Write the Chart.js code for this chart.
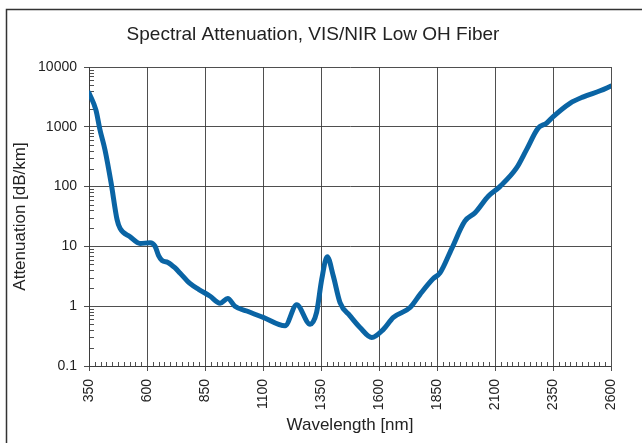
<!DOCTYPE html>
<html>
<head>
<meta charset="utf-8">
<script src="https://cdn.jsdelivr.net/npm/chart.js@4"></script>
<style>
  body { margin: 0; background: #fff; }
  canvas { display: block; }
</style>
</head>
<body>
<canvas id="attChart" width="642" height="443"></canvas>
<script>
// spectral attenuation, nm / dB per km
var wavelength = [350, 380, 397, 419, 445, 471, 484, 527, 570, 613, 635, 650, 665, 690, 720, 742, 785, 824, 871, 915, 948, 979, 1030, 1101, 1195, 1245, 1303, 1331, 1353, 1377, 1403, 1432, 1475, 1518, 1569, 1619, 1662, 1734, 1777, 1834, 1863, 1913, 1970, 2014, 2071, 2121, 2193, 2236, 2286, 2322, 2351, 2423, 2481, 2553, 2600];
var attenuation = [3700, 1900, 900, 410, 117, 28, 20, 14.5, 11.2, 11.5, 10, 7, 5.8, 5.4, 4.4, 3.6, 2.4, 1.9, 1.48, 1.12, 1.34, 1.0, 0.83, 0.65, 0.47, 1.06, 0.5, 0.79, 2.8, 6.7, 3.2, 1.15, 0.69, 0.44, 0.30, 0.41, 0.65, 0.95, 1.58, 2.9, 3.6, 9.1, 26.4, 36.5, 69, 100, 205, 415, 950, 1150, 1480, 2470, 3170, 4000, 4800];

var xTicks = [350, 600, 850, 1100, 1350, 1600, 1850, 2100, 2350, 2600];
var yTicks = [0.1, 1, 10, 100, 1000, 10000];

var gridCol = 'rgba(60,60,60,0.9)';
Chart.defaults.font.family = '"Liberation Sans", Arial, sans-serif';
Chart.defaults.color = '#222';

// minor ticks, title and the outer frame
var extras = {
  id: 'extras',
  beforeDatasetsDraw: function(chart) {
    var ctx = chart.ctx, xs = chart.scales.x, ys = chart.scales.y;
    var a = chart.chartArea;
    ctx.save();
    ctx.strokeStyle = gridCol;
    ctx.lineWidth = 1;
    ctx.beginPath();
    for (var d = 0; d < yTicks.length - 1; d++) {
      for (var k = 2; k <= 9; k++) {
        var py = Math.round(ys.getPixelForValue(yTicks[d] * k)) + 0.5;
        ctx.moveTo(a.left, py);
        ctx.lineTo(a.left + 5, py);
      }
    }
    for (var v = 375; v < 2600; v += 25) {
      if ((v - 350) % 250 === 0) continue;
      var px = Math.round(xs.getPixelForValue(v)) + 0.5;
      ctx.moveTo(px, a.bottom);
      ctx.lineTo(px, a.bottom - 4);
    }
    ctx.stroke();
    ctx.restore();
  },
  afterDraw: function(chart) {
    var ctx = chart.ctx;
    ctx.save();
    ctx.fillStyle = '#222';
    ctx.font = '19px "Liberation Sans", Arial, sans-serif';
    ctx.textAlign = 'center';
    ctx.fillText('Spectral Attenuation, VIS/NIR Low OH Fiber', 313, 40);
    ctx.strokeStyle = '#333';
    ctx.lineWidth = 1.5;
    ctx.strokeRect(6.5, 9.5, 700, 500);
    ctx.restore();
  }
};

var chartOne = document.getElementById('attChart').getContext('2d');
var myChart = new Chart(chartOne, {
  type: 'line',
  data: {
    datasets: [{
      label: 'Attenuation',
      data: wavelength.map(function(w, i) { return {x: w, y: attenuation[i]}; }),
      borderColor: '#0a64a4',
      borderWidth: 5,
      pointRadius: 0,
      cubicInterpolationMode: 'monotone',
      borderCapStyle: 'round',
      borderJoinStyle: 'round'
    }]
  },
  options: {
    responsive: false,
    animation: false,
    layout: { padding: { top: 67, right: 31, bottom: 0, left: 0 } },
    plugins: {
      legend: { display: false },
      tooltip: { enabled: false }
    },
    scales: {
      x: {
        type: 'linear',
        min: 350,
        max: 2600,
        afterBuildTicks: function(s) { s.ticks = xTicks.map(function(v) { return {value: v}; }); },
        afterFit: function(s) { s.height = 77; },
        ticks: {
          autoSkip: false,
          minRotation: 90,
          maxRotation: 90,
          padding: 8,
          font: { size: 14 },
          callback: function(v) { return String(v); }
        },
        grid: { color: gridCol, lineWidth: 1, tickLength: 5 },
        border: { color: gridCol, width: 1 },
        title: {
          display: true,
          text: 'Wavelength [nm]',
          font: { size: 17 },
          padding: { top: 0, bottom: 7 }
        }
      },
      y: {
        type: 'logarithmic',
        min: 0.1,
        max: 10000,
        afterBuildTicks: function(s) { s.ticks = yTicks.map(function(v) { return {value: v}; }); },
        afterFit: function(s) { s.width = 89; },
        ticks: {
          padding: 7,
          font: { size: 14 },
          callback: function(v) { return String(v); }
        },
        grid: { color: gridCol, lineWidth: 1, tickLength: 5 },
        border: { color: gridCol, width: 1 },
        title: {
          display: true,
          text: 'Attenuation [dB/km]',
          font: { size: 17 },
          padding: { top: 10, bottom: 0 }
        }
      }
    }
  },
  plugins: [extras]
});
</script>
</body>
</html>
